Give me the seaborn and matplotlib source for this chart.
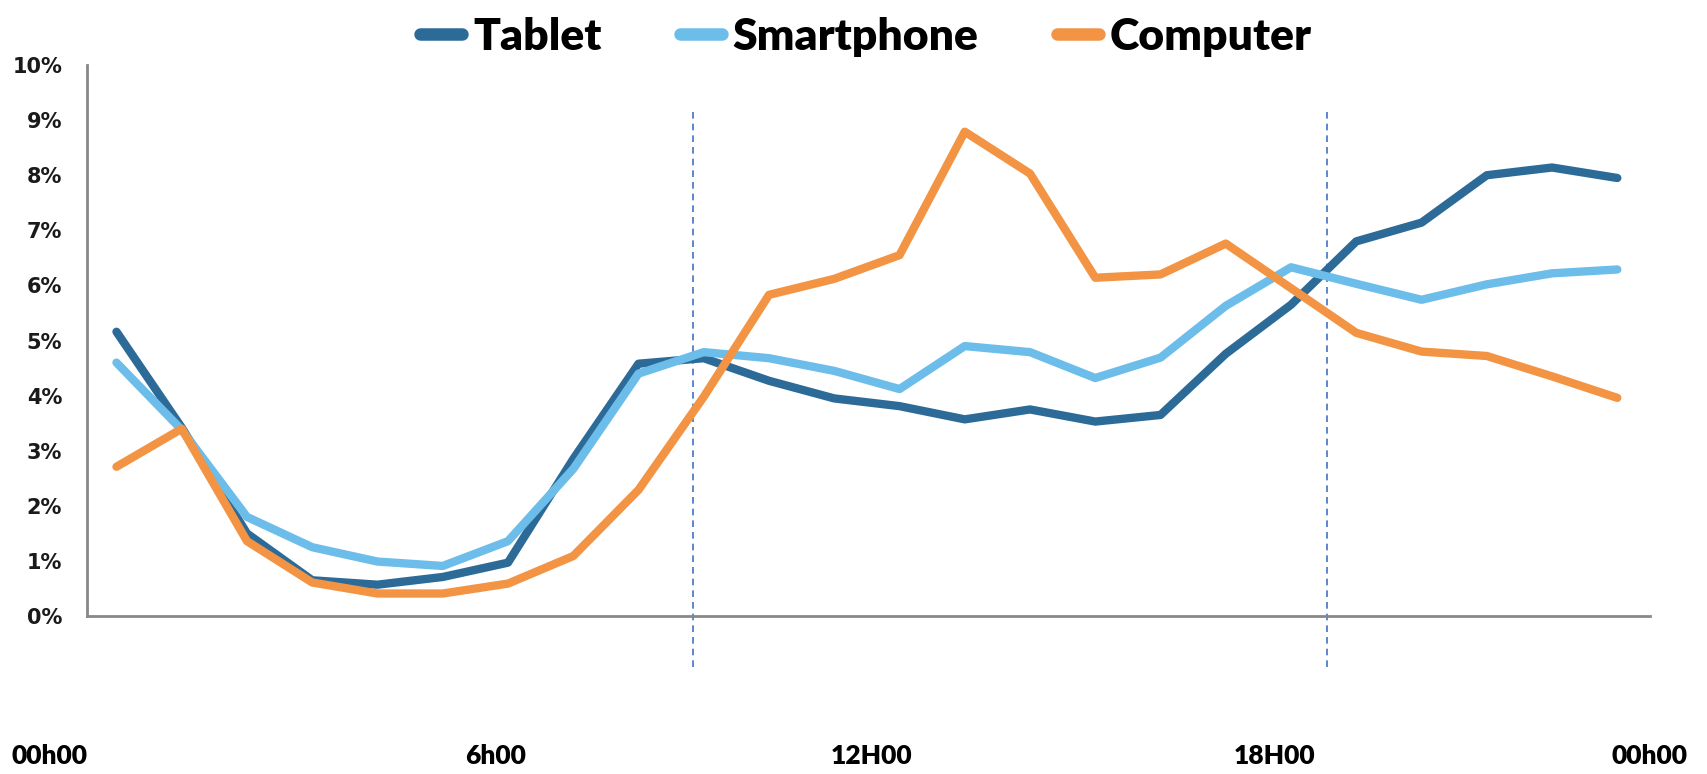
import pandas as pd
import matplotlib
matplotlib.use("Agg")
import matplotlib.pyplot as plt
import seaborn as sns

# Share of daily traffic per hourly slot (%)
slots = list(range(24))
tablet = [5.16, 3.42, 1.50, 0.65, 0.57, 0.71, 0.97, 2.85, 4.58, 4.68, 4.27, 3.95,
          3.81, 3.57, 3.75, 3.53, 3.65, 4.76, 5.65, 6.80, 7.14, 8.00, 8.14, 7.95]
smartphone = [4.60, 3.38, 1.80, 1.25, 0.99, 0.91, 1.36, 2.67, 4.40, 4.79, 4.68, 4.45,
              4.12, 4.90, 4.79, 4.32, 4.69, 5.63, 6.33, 6.03, 5.74, 6.02, 6.22, 6.29]
computer = [2.71, 3.40, 1.36, 0.61, 0.41, 0.41, 0.59, 1.09, 2.29, 3.98, 5.83, 6.12,
            6.55, 8.79, 8.03, 6.14, 6.20, 6.76, 5.95, 5.14, 4.80, 4.72, 4.35, 3.96]
devices = ["Tablet", "Smartphone", "Computer"]
colors = ["#2C6A98", "#6CBDEA", "#F29443"]
y_ticks = list(range(11))
x_labels = ["00h00", "6h00", "12H00", "18H00", "00h00"]
x_label_pos = [0.029, 0.290, 0.510, 0.746, 0.966]
dash_slots = [8.83, 18.55]

df = pd.DataFrame({
    "slot": slots * 3,
    "share": tablet + smartphone + computer,
    "device": [d for d in devices for _ in slots],
})

sns.set_style("white")
plt.rcParams["font.family"] = ["Lato", "DejaVu Sans"]

fig = plt.figure(figsize=(17.08, 7.74), dpi=100)
ax = fig.add_axes([0.051, 0.204, 0.915, 0.712])

sns.lineplot(data=df, x="slot", y="share", hue="device", hue_order=devices,
             palette=colors, linewidth=6, ax=ax, legend=True)

for x in dash_slots:
    ax.axvline(x, ymin=-0.093, ymax=0.92, color="#4472C4", linewidth=1.2,
               linestyle=(0, (4, 3)), clip_on=False, zorder=1)

ax.set_xlim(-0.45, 23.5)
ax.set_ylim(0, 10)
ax.set_yticks(y_ticks)
ax.set_yticklabels([f"{v}%" for v in y_ticks], fontsize=15, fontweight="bold",
                   family="DejaVu Sans", color="#1a1a1a")
ax.set_xticks([])
ax.set_xlabel("")
ax.set_ylabel("")
ax.tick_params(axis="y", length=0, pad=18)

for side in ["top", "right"]:
    ax.spines[side].set_visible(False)
for side in ["left", "bottom"]:
    ax.spines[side].set_color("#888888")
    ax.spines[side].set_linewidth(2)

for lbl, xp in zip(x_labels, x_label_pos):
    fig.text(xp, 0.008, lbl, ha="center", va="bottom", fontsize=19,
             fontweight="heavy", color="black")

leg = ax.legend(loc="upper center", bbox_to_anchor=(0.507, 1.03), bbox_transform=fig.transFigure,
                ncol=3, frameon=False, handlelength=0.95, handletextpad=0.25,
                columnspacing=1.75, prop={"size": 32, "weight": "heavy"})
for t in leg.get_texts():
    t.set_color("black")
for h in leg.get_lines():
    h.set_linewidth(9)
    h.set_solid_capstyle("round")

fig.savefig("out.png", dpi=100, facecolor="white")
